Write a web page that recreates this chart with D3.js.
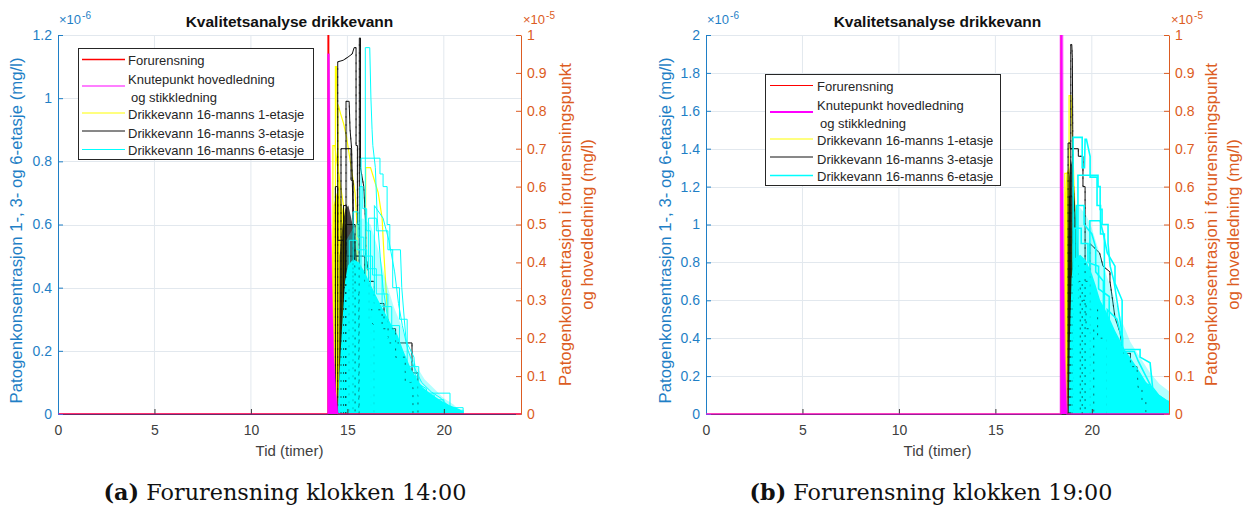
<!DOCTYPE html>
<html>
<head>
<meta charset="utf-8">
<script src="https://cdn.jsdelivr.net/npm/d3@7"></script>
<style>
  html, body { margin: 0; padding: 0; background: #fff; }
  svg { display: block; font-family: "Liberation Sans", Arial, Helvetica, sans-serif; }
</style>
</head>
<body>
<svg id="chart" width="1253" height="509"></svg>
<script>
// ---------- ticks ----------
const xTicks = [0, 5, 10, 15, 20];
const xTickLabels = ["0", "5", "10", "15", "20"];
const leftTicksA = [0, 0.2, 0.4, 0.6, 0.8, 1, 1.2];
const leftTickLabelsA = ["0", "0.2", "0.4", "0.6", "0.8", "1", "1.2"];
const leftTicksB = [0, 0.2, 0.4, 0.6, 0.8, 1, 1.2, 1.4, 1.6, 1.8, 2];
const leftTickLabelsB = ["0", "0.2", "0.4", "0.6", "0.8", "1", "1.2", "1.4", "1.6", "1.8", "2"];
const rightTicks = [0, 0.1, 0.2, 0.3, 0.4, 0.5, 0.6, 0.7, 0.8, 0.9, 1];
const rightTickLabels = ["0", "0.1", "0.2", "0.3", "0.4", "0.5", "0.6", "0.7", "0.8", "0.9", "1"];

// ---------- legend text ----------
const legendLabels = [
  ["Forurensning"],
  ["Knutepunkt hovedledning", "og stikkledning"],
  ["Drikkevann 16-manns 1-etasje"],
  ["Drikkevann 16-manns 3-etasje"],
  ["Drikkevann 16-manns 6-etasje"]
];

// ---------- (a) forurensning kl. 14:00 ----------
// time in hours; left-axis values in 1e-6 mg/l, right-axis values in 1e-5 mg/l
const forurensningA = [[0,0],[14.0,0],[14.0,1.4],[14.03,1.4],[14.03,0],[24,0]];
const knutepunktA = [[0,0],[13.98,0],[13.98,0.95],[14.06,0.95],[14.1,0.72],[14.15,0.5],[14.22,0.3],[14.3,0.15],[14.4,0.06],[14.52,0],[24,0]];

const etasje1BandA = [[14.15,0],[14.2,0.5],[14.28,0.66],[14.45,0.7],[14.65,0.68],[14.85,0.62],[14.95,0.5],[15.05,0.32],[15.15,0]];
const etasje1TracesA = [
  [[14.38,0],[14.38,1.1],[14.43,1.1],[14.47,0.95],[14.52,0.8],[14.6,0.7],[14.6,0]],
  [[14.52,0],[14.52,0.98],[14.65,0.95],[14.8,0.92],[14.95,0.88],[15.1,0.82],[15.25,0.76],[15.4,0.7],[15.5,0.6],[15.5,0]],
  [[15.95,0],[15.95,0.78],[16.2,0.78],[16.4,0.74],[16.6,0.7],[16.8,0.62],[16.9,0.5],[17.0,0.4],[17.1,0.3],[17.2,0.2],[17.2,0]],
  [[14.25,0],[14.25,0.85],[14.35,0.85],[14.45,0.8],[14.65,0.72],[14.8,0.66],[14.95,0.55],[14.95,0]]
];

const etasje3BandA = [[14.55,0],[14.6,0.5],[14.75,0.6],[14.9,0.65],[15.05,0.66],[15.2,0.62],[15.4,0.56],[15.55,0.45],[15.7,0.3],[15.85,0]];
const etasje3TracesA = [
  [[14.5,0],[14.5,1.115],[14.78,1.12],[15.03,1.13],[15.25,1.14],[15.35,1.16],[15.45,1.16],[15.45,0.85],[15.52,0.85],[15.52,0.6],[15.62,0.6],[15.62,0]],
  [[15.62,0],[15.62,1.19],[15.68,1.19],[15.68,0.78],[15.85,0.72],[15.95,0.6],[15.95,0.5],[16.1,0.45],[16.1,0.3],[16.4,0.28],[16.4,0]],
  [[14.93,0],[14.93,0.99],[15.09,0.99],[15.14,0.9],[15.22,0.84],[15.27,0.7],[15.32,0.55],[15.4,0.45],[15.4,0]],
  [[14.67,0],[14.67,0.84],[15.19,0.84],[15.19,0.74],[15.3,0.74],[15.3,0]],
  [[14.9,0],[14.9,0.6],[15.4,0.6],[15.4,0.5],[15.9,0.5],[15.9,0.42],[16.4,0.42],[16.4,0.35],[16.9,0.35],[16.9,0.3],[17.11,0.3],[17.11,0.225],[18.35,0.225],[18.35,0.13],[18.66,0.13],[18.66,0]],
  [[14.38,0],[14.38,0.72],[14.5,0.72],[14.5,0.55],[14.8,0.55],[14.8,0.4],[15.1,0.4],[15.1,0]],
  [[14.8,0],[14.8,0.66],[14.95,0.66],[14.95,0.5],[15.3,0.5],[15.3,0.38],[15.6,0.38],[15.6,0]],
  [[16.2,0],[16.2,0.33],[16.8,0.33],[16.8,0.27],[17.5,0.27],[17.5,0.18],[18.0,0.18],[18.0,0.1],[18.4,0.1],[18.4,0]]
];

const etasje6BandA = [[14.5,0],[14.6,0.14],[14.72,0.27],[14.88,0.42],[15.03,0.47],[15.3,0.49],[15.6,0.48],[15.9,0.45],[16.2,0.41],[16.6,0.36],[16.95,0.32],[17.3,0.28],[17.6,0.25],[17.9,0.2],[18.25,0.15],[18.6,0.11],[18.9,0.085],[19.3,0.065],[19.8,0.044],[20.3,0.028],[20.8,0.016],[21.0,0.008],[21.05,0]];
const etasje6HazeA = [[14.95,0],[14.95,0.55],[15.4,0.6],[15.8,0.62],[16.2,0.6],[16.6,0.52],[17.0,0.42],[17.4,0.34],[17.8,0.28],[18.2,0.2],[18.6,0.15],[19.0,0.11],[19.5,0.08],[20.0,0.05],[20.5,0.03],[21.0,0]];
const etasje6TracesA = [
  [[15.93,0],[15.93,1.16],[16.16,1.16],[16.22,1.0],[16.28,0.9],[16.32,0.85],[16.45,0.78],[16.55,0.62],[16.7,0.5],[16.85,0.4],[17.1,0.3],[17.4,0.24],[17.8,0.17],[18.3,0.1],[18.8,0.05],[19.2,0]],
  [[15.71,0],[15.71,0.81],[16.69,0.81],[16.69,0.76],[16.85,0.76],[16.85,0.72],[17.06,0.72],[17.06,0.6],[17.2,0.6],[17.2,0.52],[17.35,0.52],[17.35,0.4],[17.7,0.4],[17.7,0.3],[18.1,0.3],[18.1,0.15],[18.7,0.15],[18.7,0.06],[19.5,0.06],[19.5,0]],
  [[16.1,0],[16.1,0.62],[16.5,0.62],[16.5,0.58],[17.1,0.58],[17.1,0.52],[17.75,0.52],[17.82,0.4],[17.95,0.3],[18.05,0.23],[18.45,0.18],[18.55,0.1],[19.1,0.08],[19.1,0.066],[20.32,0.066],[20.32,0.02],[21.0,0.02],[21.0,0]],
  [[16.4,0],[16.4,0.66],[16.85,0.62],[17.15,0.55],[17.45,0.45],[17.65,0.35],[17.85,0.28],[18.15,0.2],[18.45,0.15],[18.85,0.1],[19.35,0.07],[19.85,0.05],[20.15,0.03],[20.55,0.01],[20.55,0]],
  [[15.1,0],[15.1,0.55],[15.5,0.55],[15.5,0.52],[16.0,0.52],[16.0,0.46],[16.5,0.46],[16.5,0.38],[17.1,0.38],[17.1,0.28],[17.7,0.28],[17.7,0]],
  [[15.65,0],[15.65,0.72],[15.8,0.72],[15.8,0.65],[16.0,0.65],[16.0,0.58],[16.2,0.58],[16.2,0]],
  [[16.9,0],[16.9,0.25],[17.6,0.22],[17.6,0.12],[18.6,0.12],[18.6,0.045],[20.0,0.045],[20.0,0.012],[21.0,0.012],[21.0,0]],
  [[15.3,0],[15.3,0.64],[15.55,0.64],[15.55,0.56],[15.85,0.56],[15.85,0.5],[16.3,0.5],[16.3,0.44],[16.8,0.44],[16.8,0.34],[17.3,0.34],[17.3,0]]
];

// ---------- (b) forurensning kl. 19:00 ----------
const forurensningB = [[0,0],[18.4,0],[18.4,1.4],[18.43,1.4],[18.43,0],[24,0]];
const knutepunktB = [[0,0],[18.38,0],[18.38,1.2],[18.46,1.2],[18.5,0.6],[18.55,0.35],[18.6,0.15],[18.67,0.05],[18.72,0],[24,0]];

const etasje1BandB = [[18.52,0],[18.56,0.8],[18.6,1.15],[18.68,1.27],[18.8,1.3],[18.9,1.2],[18.98,0.9],[19.05,0.5],[19.1,0]];
const etasje1TracesB = [
  [[18.82,0],[18.82,1.68],[18.92,1.68],[18.98,1.5],[19.03,1.35],[19.08,1.2],[19.15,1.0],[19.15,0]],
  [[18.6,0],[18.6,1.27],[18.75,1.27],[18.8,1.1],[18.8,0]]
];

const etasje3BandB = [[18.74,0],[18.77,0.9],[18.82,1.25],[18.9,1.35],[19.0,1.3],[19.1,1.15],[19.2,1.0],[19.3,0.85],[19.4,0.6],[19.5,0]];
const etasje3TracesB = [
  [[18.91,0],[18.91,1.95],[18.96,1.95],[18.99,1.88],[19.01,1.5],[19.01,1.2],[19.06,1.2],[19.06,0]],
  [[18.77,0],[18.77,1.43],[18.88,1.43],[18.88,1.4],[19.3,1.4],[19.3,1.36],[19.54,1.36],[19.54,1.2],[19.65,1.2],[19.65,0]],
  [[19.9,0],[19.9,0.9],[20.4,0.85],[20.58,0.78],[20.94,0.75],[20.94,0.7],[21.05,0.62],[21.2,0.51],[21.46,0.43],[21.62,0.32],[22.0,0.32],[22.0,0.25],[22.34,0.25],[22.4,0.14],[22.6,0.14],[22.6,0.07],[22.8,0.07],[22.8,0]],
  [[18.85,0],[18.85,1.15],[19.0,1.15],[19.0,0.9],[19.2,0.9],[19.2,0.7],[19.4,0.7],[19.4,0]],
  [[19.0,0],[19.0,0.8],[19.3,0.8],[19.3,0.6],[19.7,0.6],[19.7,0.45],[20.1,0.45],[20.1,0]],
  [[19.5,0],[19.5,0.7],[19.9,0.7],[19.9,0.55],[20.3,0.55],[20.3,0.4],[20.8,0.4],[20.8,0]]
];

const etasje6BandB = [[18.8,0],[18.86,0.4],[18.95,0.72],[19.1,0.82],[19.4,0.84],[19.7,0.81],[20.0,0.74],[20.2,0.68],[20.43,0.6],[20.7,0.55],[20.94,0.5],[21.2,0.44],[21.46,0.39],[21.7,0.34],[21.98,0.3],[22.25,0.26],[22.5,0.22],[22.8,0.17],[23.17,0.13],[23.5,0.1],[23.9,0.074],[24.0,0.07]];
const etasje6HazeB = [[19.0,0],[19.0,1.05],[19.3,1.1],[19.7,1.05],[20.0,0.98],[20.4,0.85],[20.8,0.72],[21.2,0.6],[21.6,0.48],[22.0,0.38],[22.5,0.3],[23.0,0.22],[23.5,0.16],[24.0,0.12]];
const etasje6TracesB = [
  [[19.03,0],[19.03,1.46],[19.5,1.46],[19.5,1.3],[19.62,1.3],[19.65,1.45],[19.72,1.45],[19.91,1.36],[19.91,1.25],[20.27,1.25],[20.27,1.1],[20.45,1.1],[20.45,0.95],[20.65,0.95],[20.65,0]],
  [[19.28,0],[19.28,1.26],[20.32,1.26],[20.32,1.2],[20.43,1.2],[20.43,1.08],[20.53,1.08],[20.53,1.0],[20.84,1.0],[20.84,0.9],[20.95,0.78],[21.15,0.7],[21.3,0.6],[21.45,0.5],[21.6,0.4],[21.6,0]],
  [[19.9,0],[19.9,1.02],[20.43,1.02],[20.6,0.95],[20.8,0.85],[21.2,0.78],[21.2,0.69],[21.57,0.6],[21.57,0.34],[22.5,0.34],[22.5,0.3],[23.02,0.27],[23.15,0.14],[23.45,0.1],[24.0,0.058]],
  [[20.8,0],[20.8,0.55],[21.3,0.5],[21.55,0.4],[21.6,0.33],[22.2,0.33],[22.4,0.28],[22.8,0.2],[23.2,0.12],[23.45,0.08],[24.0,0.04]],
  [[19.2,0],[19.2,1.1],[19.6,1.1],[19.6,1.0],[20.0,0.95],[20.2,0.88],[20.2,0.75],[20.6,0.7],[20.6,0]],
  [[21.6,0],[21.6,0.17],[22.5,0.17],[22.5,0.155],[23.0,0.155],[23.3,0.1],[23.7,0.06],[24.0,0.05]],
  [[19.1,0],[19.1,0.98],[19.45,0.98],[19.45,0.9],[19.8,0.9],[19.8,0.8],[20.35,0.78],[20.35,0.66],[20.9,0.62],[20.9,0]]
];

// ---------- styling ----------
const COLORS = { red: "#ff0000", magenta: "#ff00ff", yellow: "#ffff00", black: "#111111", cyan: "#00ffff" };
const LEFT_COLOR = "#1f7fc6";
const RIGHT_COLOR = "#dc5c22";
const AXIS_COLOR = "#3a3a3a";
const GRID_COLOR = "#e2e8ee";

const svg = d3.select("#chart");

const panels = [
  {
    id: "a", left: 58, right: 521, top: 35, bottom: 414,
    leftMax: 1.2, leftTicks: leftTicksA, leftTickLabels: leftTickLabelsA,
    forurensning: forurensningA, knutepunkt: knutepunktA,
    e1Band: etasje1BandA, e1: etasje1TracesA,
    e3Band: etasje3BandA, e3: etasje3TracesA,
    e6Band: etasje6BandA, e6Haze: etasje6HazeA, e6: etasje6TracesA,
    legend: { x: 78, y: 48, w: 235, h: 111, lineX: 82, textX: 128 },
    lw: { cyan: 1, magenta: 1.2, red: 1.4 },
    leftLabelX: 16, rightLabelX: [565, 587],
    tag: "(a)", caption: "Forurensning klokken 14:00", capX: 285
  },
  {
    id: "b", left: 706, right: 1169, top: 35, bottom: 414,
    leftMax: 2, leftTicks: leftTicksB, leftTickLabels: leftTickLabelsB,
    forurensning: forurensningB, knutepunkt: knutepunktB,
    e1Band: etasje1BandB, e1: etasje1TracesB,
    e3Band: etasje3BandB, e3: etasje3TracesB,
    e6Band: etasje6BandB, e6Haze: etasje6HazeB, e6: etasje6TracesB,
    legend: { x: 765, y: 74, w: 235, h: 111, lineX: 770, textX: 817 },
    lw: { cyan: 1.6, magenta: 2, red: 1 },
    leftLabelX: 665, rightLabelX: [1211, 1233],
    tag: "(b)", caption: "Forurensning klokken 19:00", capX: 931
  }
];

function drawPanel(p) {
  const g = svg.append("g").attr("class", "panel-" + p.id);
  const x = d3.scaleLinear().domain([0, 24]).range([p.left, p.right]);
  const yL = d3.scaleLinear().domain([0, p.leftMax]).range([p.bottom, p.top]);
  const yR = d3.scaleLinear().domain([0, 1]).range([p.bottom, p.top]);

  // grid
  const grid = g.append("g");
  grid.selectAll("line.gx").data(xTicks.filter(d => d > 0)).join("line")
    .attr("x1", d => x(d)).attr("x2", d => x(d))
    .attr("y1", p.top).attr("y2", p.bottom)
    .attr("stroke", GRID_COLOR).attr("stroke-width", 1);
  grid.selectAll("line.gy").data(p.leftTicks.filter(d => d > 0)).join("line")
    .attr("x1", p.left).attr("x2", p.right)
    .attr("y1", d => Math.round(yL(d)) + 0.5).attr("y2", d => Math.round(yL(d)) + 0.5)
    .attr("stroke", GRID_COLOR).attr("stroke-width", 1);

  // clip to the plot box
  svg.append("clipPath").attr("id", "clip-" + p.id)
    .append("rect").attr("x", p.left).attr("y", p.top)
    .attr("width", p.right - p.left).attr("height", p.bottom - p.top + 1.5);
  const plot = g.append("g").attr("clip-path", `url(#clip-${p.id})`);

  const lineL = d3.line().x(d => x(d[0])).y(d => yL(d[1]));
  const areaL = d3.area().x(d => x(d[0])).y0(yL(0)).y1(d => yL(d[1]));
  const lineR = d3.line().x(d => x(d[0])).y(d => yR(d[1]));
  const areaR = d3.area().x(d => x(d[0])).y0(yR(0)).y1(d => yR(d[1]));

  // 1-etasje (yellow)
  plot.append("path").datum(p.e1Band).attr("d", areaL).attr("fill", COLORS.yellow);
  plot.append("g").selectAll("path").data(p.e1).join("path")
    .attr("d", lineL).attr("fill", "none").attr("stroke", COLORS.yellow).attr("stroke-width", 1.2);

  // 3-etasje (black)
  plot.append("path").datum(p.e3Band).attr("d", areaL).attr("fill", "#000").attr("fill-opacity", 0.72);
  plot.append("g").selectAll("path").data(p.e3).join("path")
    .attr("d", lineL).attr("fill", "none").attr("stroke", COLORS.black).attr("stroke-width", 1);

  // 6-etasje (cyan): thinner spread of traces, then the dense core
  plot.append("path").datum(p.e6Haze).attr("d", areaL).attr("fill", COLORS.cyan).attr("fill-opacity", 0.3);
  plot.append("path").datum(p.e6Band).attr("d", areaL).attr("fill", COLORS.cyan);
  // black lines showing through the dense cyan traces
  plot.append("g").selectAll("path").data(p.e3).join("path")
    .attr("d", lineL).attr("fill", "none").attr("stroke", COLORS.black)
    .attr("stroke-width", 1).attr("stroke-dasharray", "2,6").attr("stroke-opacity", 0.6);
  plot.append("g").selectAll("path").data(p.e6).join("path")
    .attr("d", lineL).attr("fill", "none").attr("stroke", COLORS.cyan).attr("stroke-width", p.lw.cyan);

  // right-axis series
  plot.append("path").datum(p.forurensning).attr("d", lineR)
    .attr("fill", "none").attr("stroke", COLORS.red).attr("stroke-width", p.lw.red);
  plot.append("path").datum(p.knutepunkt).attr("d", areaR).attr("fill", COLORS.magenta);

  // axes
  const xAxis = d3.axisBottom(x).tickValues(xTicks).tickFormat((d, i) => xTickLabels[i])
    .tickSizeInner(-5).tickSizeOuter(0).tickPadding(11);
  const ax = g.append("g").attr("transform", `translate(0,${p.bottom})`).call(xAxis);
  ax.select(".domain").attr("stroke", AXIS_COLOR);
  ax.selectAll(".tick line").attr("stroke", AXIS_COLOR);
  ax.selectAll(".tick text").attr("fill", "#404040");
  ax.attr("font-size", 14).attr("font-family", null);

  const lAxis = d3.axisLeft(yL).tickValues(p.leftTicks).tickFormat((d, i) => p.leftTickLabels[i])
    .tickSizeInner(-5).tickSizeOuter(0).tickPadding(6);
  const al = g.append("g").attr("transform", `translate(${p.left},0)`).call(lAxis);
  al.select(".domain").attr("stroke", LEFT_COLOR);
  al.selectAll(".tick line").attr("stroke", LEFT_COLOR);
  al.selectAll(".tick text").attr("fill", LEFT_COLOR);
  al.attr("font-size", 14).attr("font-family", null);

  const rAxis = d3.axisRight(yR).tickValues(rightTicks).tickFormat((d, i) => rightTickLabels[i])
    .tickSizeInner(-5).tickSizeOuter(0).tickPadding(6);
  const ar = g.append("g").attr("transform", `translate(${p.right},0)`).call(rAxis);
  ar.select(".domain").attr("stroke", RIGHT_COLOR);
  ar.selectAll(".tick line").attr("stroke", RIGHT_COLOR);
  ar.selectAll(".tick text").attr("fill", RIGHT_COLOR);
  ar.attr("font-size", 14).attr("font-family", null);

  // zero line of the junction series sits over the x axis
  g.append("g").attr("clip-path", `url(#clip-${p.id})`)
    .append("path").datum(p.knutepunkt).attr("d", lineR)
    .attr("fill", "none").attr("stroke", COLORS.magenta)
    .attr("stroke-width", p.lw.magenta).attr("stroke-opacity", 0.5);

  // exponent labels
  const expo = (xPos, color, pow) => {
    const t = g.append("text").attr("x", xPos).attr("y", 24).attr("fill", color).style("font-size", "13px");
    t.append("tspan").text("×10");
    t.append("tspan").attr("dx", 1).attr("dy", -5).style("font-size", "10px").text(pow);
  };
  expo(p.left + 1, LEFT_COLOR, "-6");
  expo(p.right + 2, RIGHT_COLOR, "-5");

  // title
  const cx = (p.left + p.right) / 2;
  g.append("text").attr("x", cx).attr("y", 27).attr("text-anchor", "middle")
    .style("font-size", "15.5px").style("font-weight", "bold").attr("fill", "#111")
    .text("Kvalitetsanalyse drikkevann");

  // axis labels
  g.append("text").attr("x", cx).attr("y", 456).attr("text-anchor", "middle")
    .style("font-size", "15px").attr("fill", "#404040").text("Tid (timer)");
  const cy = (p.top + p.bottom) / 2;
  g.append("text").attr("transform", `translate(${p.leftLabelX},${cy + 6}) rotate(-90)`)
    .attr("text-anchor", "middle").attr("dominant-baseline", "central")
    .style("font-size", "16.8px").attr("fill", LEFT_COLOR)
    .text("Patogenkonsentrasjon 1-, 3- og 6-etasje (mg/l)");
  ["Patogenkonsentrasjon i forurensningspunkt", "og hovedledning (mg/l)"].forEach((s, i) => {
    g.append("text").attr("transform", `translate(${p.rightLabelX[i]},${cy}) rotate(-90)`)
      .attr("text-anchor", "middle").attr("dominant-baseline", "central")
      .style("font-size", "16.8px").attr("fill", RIGHT_COLOR).text(s);
  });

  // legend
  const L = p.legend;
  const lg = g.append("g");
  lg.append("rect").attr("x", L.x + 0.5).attr("y", L.y + 0.5).attr("width", L.w).attr("height", L.h)
    .attr("fill", "#fff").attr("stroke", "#262626").attr("stroke-width", 1);
  const lineRows = [11.5, 38, 65, 83, 101.5];
  const textRows = [[12], [31, 49], [66.5], [85], [102.5]];
  const legendColors = [COLORS.red, COLORS.magenta, COLORS.yellow, COLORS.black, COLORS.cyan];
  const legendWidths = [p.lw.red, p.lw.magenta, 1.2, 1, p.lw.cyan];
  legendLabels.forEach((lines, i) => {
    lg.append("line").attr("x1", L.lineX).attr("x2", L.lineX + 43)
      .attr("y1", L.y + lineRows[i]).attr("y2", L.y + lineRows[i])
      .attr("stroke", legendColors[i]).attr("stroke-width", legendWidths[i]);
    lines.forEach((s, j) => {
      lg.append("text").attr("x", L.textX + (j > 0 ? 3 : 0)).attr("y", L.y + textRows[i][j])
        .attr("dominant-baseline", "central").style("font-size", "13px").attr("fill", "#262626").text(s);
    });
  });

  // sub-figure caption
  const cap = svg.append("text").attr("x", p.capX).attr("y", 500).attr("text-anchor", "middle")
    .style("font-family", "'DejaVu Serif', serif").style("font-size", "20px").attr("fill", "#111");
  cap.append("tspan").style("font-weight", "bold").text(p.tag);
  cap.append("tspan").text(" " + p.caption);
  const w = cap.node().getComputedTextLength();
  if (w > 0) cap.style("font-size", Math.min(23, Math.max(16, 20 * 363 / w)).toFixed(2) + "px");
}

panels.forEach(drawPanel);
</script>
</body>
</html>
